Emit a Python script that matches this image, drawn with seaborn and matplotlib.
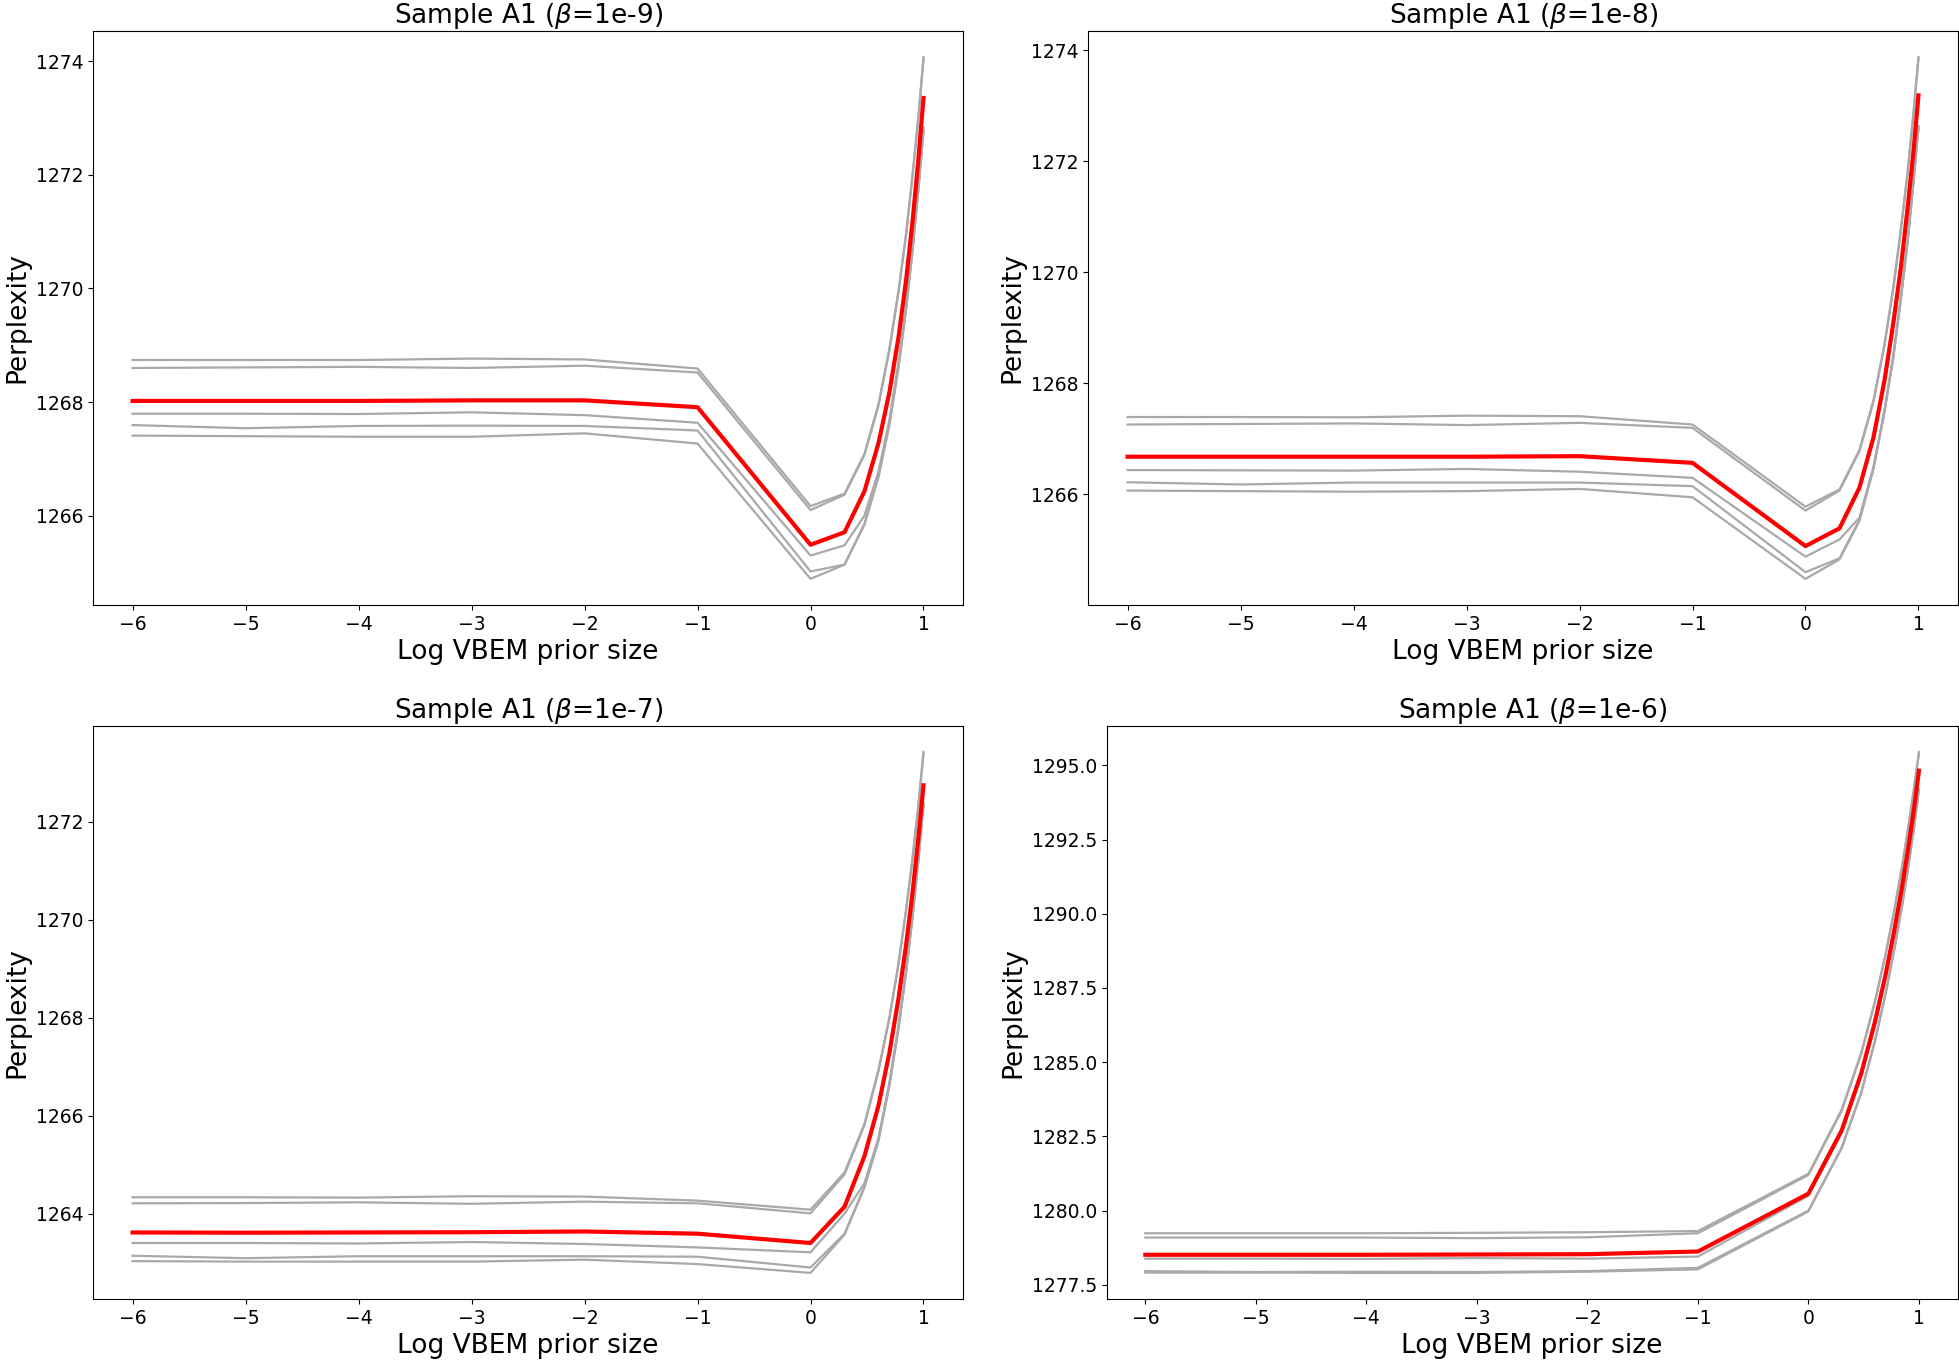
import numpy as np
import pandas as pd
import matplotlib
matplotlib.use("Agg")
import matplotlib.pyplot as plt
import seaborn as sns

# VBEM prior sizes used in the sweep (plotted on log10 scale)
prior_sizes = [1e-6, 1e-5, 1e-4, 1e-3, 1e-2, 1e-1, 1, 2, 3, 4, 5, 6, 7, 8, 9, 10]

betas = ["1e-9", "1e-8", "1e-7", "1e-6"]

# perplexity of the five runs, one list per run, plus their mean (red)
runs_b9 = [
    [1268.74, 1268.74, 1268.74, 1268.765, 1268.75, 1268.59, 1266.17, 1266.39, 1267.09, 1267.97, 1268.95, 1269.95, 1270.95, 1272.0, 1273.0, 1274.07],
    [1268.60, 1268.61, 1268.62, 1268.60, 1268.64, 1268.52, 1266.10, 1266.37, 1267.07, 1267.94, 1268.92, 1269.92, 1270.93, 1271.98, 1273.0, 1274.03],
    [1267.795, 1267.795, 1267.79, 1267.82, 1267.77, 1267.636, 1265.30, 1265.48, 1266.0, 1266.78, 1267.7, 1268.7, 1269.7, 1270.72, 1271.77, 1272.83],
    [1267.595, 1267.54, 1267.58, 1267.585, 1267.58, 1267.50, 1265.02, 1265.14, 1265.86, 1266.71, 1267.63, 1268.62, 1269.64, 1270.68, 1271.73, 1272.79],
    [1267.41, 1267.40, 1267.39, 1267.39, 1267.45, 1267.27, 1264.89, 1265.14, 1265.84, 1266.68, 1267.6, 1268.6, 1269.6, 1270.65, 1271.72, 1272.77],
]
mean_b9 = [1268.02, 1268.02, 1268.02, 1268.03, 1268.03, 1267.91, 1265.49, 1265.71, 1266.43, 1267.28, 1268.18, 1269.13, 1270.13, 1271.18, 1272.26, 1273.35]

runs_b8 = [
    [1267.395, 1267.395, 1267.39, 1267.42, 1267.41, 1267.26, 1265.78, 1266.09, 1266.80, 1267.70, 1268.7, 1269.75, 1270.8, 1271.8, 1272.85, 1273.88],
    [1267.26, 1267.27, 1267.28, 1267.25, 1267.29, 1267.20, 1265.71, 1266.07, 1266.78, 1267.67, 1268.68, 1269.72, 1270.77, 1271.78, 1272.82, 1273.85],
    [1266.44, 1266.435, 1266.43, 1266.46, 1266.41, 1266.30, 1264.88, 1265.19, 1265.58, 1266.5, 1267.52, 1268.52, 1269.57, 1270.57, 1271.62, 1272.64],
    [1266.22, 1266.18, 1266.215, 1266.215, 1266.215, 1266.15, 1264.60, 1264.85, 1265.54, 1266.48, 1267.5, 1268.5, 1269.55, 1270.55, 1271.6, 1272.62],
    [1266.07, 1266.06, 1266.05, 1266.06, 1266.10, 1265.95, 1264.48, 1264.83, 1265.52, 1266.46, 1267.48, 1268.48, 1269.53, 1270.53, 1271.58, 1272.60],
]
mean_b8 = [1266.68, 1266.68, 1266.68, 1266.68, 1266.69, 1266.57, 1265.07, 1265.39, 1266.12, 1267.03, 1268.05, 1269.1, 1270.1, 1271.15, 1272.15, 1273.19]

runs_b7 = [
    [1264.333, 1264.333, 1264.326, 1264.354, 1264.347, 1264.265, 1264.08, 1264.84, 1265.83, 1266.94, 1268.01, 1269.1, 1270.19, 1271.26, 1272.33, 1273.42],
    [1264.21, 1264.215, 1264.23, 1264.20, 1264.244, 1264.21, 1264.005, 1264.80, 1265.80, 1266.91, 1267.99, 1269.08, 1270.17, 1271.24, 1272.31, 1273.39],
    [1263.40, 1263.40, 1263.39, 1263.42, 1263.38, 1263.31, 1263.21, 1264.0, 1264.62, 1265.55, 1266.69, 1267.83, 1268.97, 1270.11, 1271.24, 1272.38],
    [1263.14, 1263.09, 1263.13, 1263.13, 1263.13, 1263.12, 1262.90, 1263.59, 1264.55, 1265.51, 1266.64, 1267.78, 1268.92, 1270.06, 1271.21, 1272.35],
    [1263.03, 1263.02, 1263.02, 1263.02, 1263.06, 1262.97, 1262.79, 1263.57, 1264.53, 1265.49, 1266.62, 1267.76, 1268.9, 1270.04, 1271.18, 1272.33],
]
mean_b7 = [1263.615, 1263.61, 1263.615, 1263.62, 1263.635, 1263.59, 1263.40, 1264.14, 1265.17, 1266.21, 1267.29, 1268.38, 1269.47, 1270.55, 1271.66, 1272.74]

runs_b6 = [
    [1279.235, 1279.235, 1279.235, 1279.25, 1279.27, 1279.31, 1281.24, 1283.40, 1285.31, 1287.06, 1288.66, 1290.16, 1291.56, 1292.91, 1294.21, 1295.45],
    [1279.09, 1279.09, 1279.09, 1279.07, 1279.10, 1279.235, 1281.20, 1283.36, 1285.27, 1287.02, 1288.62, 1290.12, 1291.52, 1292.87, 1294.17, 1295.41],
    [1278.38, 1278.38, 1278.37, 1278.40, 1278.38, 1278.45, 1280.50, 1282.62, 1284.52, 1286.27, 1287.87, 1289.37, 1290.77, 1292.12, 1293.42, 1294.70],
    [1277.96, 1277.93, 1277.94, 1277.93, 1277.96, 1278.07, 1280.0, 1282.13, 1283.98, 1285.73, 1287.33, 1288.83, 1290.23, 1291.58, 1292.88, 1294.21],
    [1277.91, 1277.91, 1277.90, 1277.90, 1277.94, 1278.02, 1279.97, 1282.10, 1283.95, 1285.70, 1287.30, 1288.80, 1290.20, 1291.55, 1292.85, 1294.18],
]
mean_b6 = [1278.51, 1278.51, 1278.51, 1278.52, 1278.53, 1278.62, 1280.57, 1282.70, 1284.61, 1286.36, 1287.96, 1289.46, 1290.86, 1292.21, 1293.51, 1294.82]

all_runs = [runs_b9, runs_b8, runs_b7, runs_b6]
all_means = [mean_b9, mean_b8, mean_b7, mean_b6]

log_prior = np.log10(prior_sizes)

fig = plt.figure(figsize=(19.59, 13.64), dpi=100)
# panel rectangles [left, bottom, width, height]
positions = [
    [0.0475, 0.5565, 0.4441, 0.4208],
    [0.5554, 0.5565, 0.4441, 0.4208],
    [0.0475, 0.0477, 0.4441, 0.4201],
    [0.5649, 0.0477, 0.4344, 0.4201],
]

for beta, runs, mean, pos in zip(betas, all_runs, all_means, positions):
    ax = fig.add_axes(pos)
    for run in runs:
        sns.lineplot(x=log_prior, y=run, color="darkgray", linewidth=1.6, ax=ax)
    sns.lineplot(x=log_prior, y=mean, color="red", linewidth=3.0, ax=ax, zorder=5)
    ax.set_title(rf"Sample A1 ($\beta$={beta})", fontsize=19)
    ax.set_xlabel("Log VBEM prior size", fontsize=19)
    ax.set_ylabel("Perplexity", fontsize=19)
    ax.tick_params(labelsize=13.5)

fig.savefig("out.png", dpi=100)
